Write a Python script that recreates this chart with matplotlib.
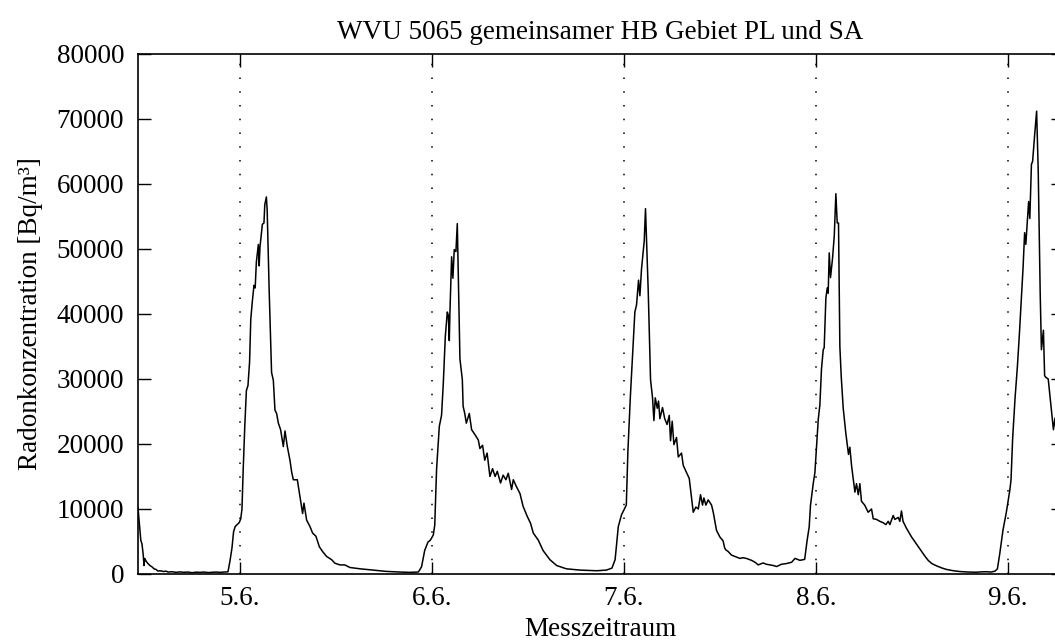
# -*- coding: utf-8
import matplotlib
matplotlib.use("Agg")
import matplotlib.pyplot as plt

# 測定時刻 (5.6. 0:00 からの時間 [h]) とラドン濃度 [Bq/m3]
# 4.6. 夜 ～ 5.6. 朝
t_0 = [-12.75, -12.6, -12.4, -12.25, -12.1, -12.0, -11.9, -11.75, -11.5, -11.25,
       -11.0, -10.75, -10.5, -10.25, -10.0, -9.5, -9.25, -9.0, -8.5, -8.0,
       -7.5, -7.0, -6.5, -6.0, -5.5, -5.0, -4.5, -4.0, -3.5, -3.0,
       -2.5, -2.0, -1.5]
v_0 = [10200, 8000, 5200, 4600, 3000, 1300, 2400, 2000, 1600, 1300,
       1100, 800, 700, 450, 500, 380, 450, 300, 350, 250,
       320, 260, 300, 200, 280, 250, 300, 220, 260, 300,
       250, 300, 330]

# 5.6.
t_1 = [-1.25, -1.0, -0.8, -0.6, -0.35, -0.1, 0.1, 0.25, 0.4, 0.6,
       0.8, 1.0, 1.2, 1.35, 1.55, 1.75, 1.9, 2.05, 2.3, 2.4,
       2.5, 2.8, 3.0, 3.1, 3.3, 3.4, 3.65, 3.95, 4.17, 4.375,
       4.58, 4.8, 5.08, 5.42, 5.63, 5.92, 6.25, 6.46, 6.67, 7.17,
       7.5, 7.83, 8.0, 8.33, 8.75, 9.08, 9.5, 9.92, 10.33, 10.83,
       11.46, 11.88, 12.5, 13.1, 13.75, 15.0, 16.67, 18.3, 20.0, 21.2,
       22.3, 22.7, 23.1, 23.5, 23.8, 24.17, 24.35]
v_1 = [2000, 4000, 6500, 7300, 7600, 7900, 8500, 10000, 16000, 22700,
       28200, 29000, 32600, 39200, 42000, 44400, 44000, 48000, 50700, 47400,
       50300, 53800, 54000, 56800, 58000, 56000, 43600, 31000, 29800, 25200,
       24700, 23200, 22200, 19600, 22000, 19600, 17500, 15700, 14500, 14500,
       11900, 9300, 10900, 8300, 7300, 6300, 5800, 4200, 3450, 2700,
       2200, 1650, 1400, 1400, 1000, 800, 600, 400, 300, 250,
       300, 1100, 3650, 4900, 5200, 6000, 7500]

# 6.6.
t_2 = [24.58, 24.92, 25.2, 25.42, 25.67, 25.92, 26.05, 26.17, 26.25, 26.46,
       26.62, 26.79, 27.0, 27.17, 27.33, 27.5, 27.8, 27.9, 28.1, 28.3,
       28.67, 28.96, 29.4, 29.8, 30.0, 30.33, 30.6, 30.9, 31.25, 31.58,
       31.9, 32.17, 32.58, 32.9, 33.25, 33.54, 33.96, 34.17, 34.58, 35.0,
       35.4, 35.9, 36.33, 36.67, 37.3, 37.9, 38.75, 39.6, 40.8, 42.5,
       44.6, 45.8, 46.5, 46.9, 47.3, 47.7, 48.1, 48.3]
v_2 = [16100, 22700, 24400, 29300, 36500, 40300, 39800, 35900, 40300, 48800,
       45500, 49900, 49600, 53900, 43600, 33100, 29900, 25800, 24700, 23200,
       24700, 22200, 21400, 20600, 19300, 19800, 17500, 18600, 15000, 16200,
       15000, 15800, 14000, 15200, 14500, 15500, 13000, 14500, 13400, 12400,
       10400, 8900, 7800, 6300, 5200, 3600, 2200, 1300, 800, 600,
       500, 600, 900, 2200, 7300, 9100, 10100, 10600]

# 7.6.
t_3 = [48.5, 48.8, 49.08, 49.37, 49.58, 49.83, 50.0, 50.2, 50.42, 50.54,
       50.7, 50.83, 51.04, 51.33, 51.58, 51.75, 51.92, 52.17, 52.33, 52.5,
       52.83, 53.1, 53.4, 53.67, 53.83, 54.04, 54.25, 54.58, 54.8, 55.2,
       55.42, 55.83, 56.17, 56.46, 56.67, 57.0, 57.3, 57.58, 57.83, 58.0,
       58.25, 58.54, 58.96, 59.17, 59.58, 60.0, 60.4, 60.6, 60.75, 61.0,
       61.46, 62.08, 62.5, 62.9, 63.3, 63.96, 64.4, 64.8, 65.4, 65.8,
       66.25, 66.7, 67.1, 67.7, 68.3, 68.96, 69.4, 70.0, 70.6, 70.9,
       71.17, 71.33, 71.67]
v_3 = [18900, 27100, 33700, 40300, 41400, 45200, 42800, 46900, 49600, 51200,
       56200, 51200, 43600, 29900, 27100, 23600, 27100, 25500, 26600, 23900,
       25600, 23900, 23000, 24400, 20500, 23500, 19900, 21000, 18000, 18600,
       16700, 15600, 14700, 11700, 9500, 10300, 10000, 12200, 10600, 11700,
       10600, 11400, 10600, 9500, 6700, 5700, 5100, 4000, 3700, 3500,
       2900, 2600, 2400, 2500, 2400, 2100, 1800, 1400, 1700, 1500,
       1400, 1300, 1150, 1500, 1600, 1800, 2400, 2100, 2250, 5100,
       7300, 10600, 13900]

# 8.6.
t_4 = [71.88, 72.08, 72.3, 72.5, 72.7, 72.92, 73.04, 73.25, 73.42, 73.54,
       73.67, 73.83, 74.08, 74.3, 74.5, 74.67, 74.83, 75.0, 75.17, 75.42,
       75.75, 75.92, 76.08, 76.25, 76.46, 76.75, 76.88, 77.08, 77.3, 77.5,
       77.7, 78.1, 78.54, 78.96, 79.17, 79.58, 80.0, 80.4, 80.75, 81.04,
       81.25, 81.67, 81.87, 82.3, 82.5, 82.7, 82.9, 83.3, 83.96, 84.58,
       85.2, 85.6, 86.04, 86.5, 87.08, 87.7, 88.33, 89.2, 90.0, 91.0,
       92.08, 92.7, 93.33, 93.9, 94.4, 94.7, 95.0, 95.4, 95.8]
v_4 = [15600, 19400, 23800, 26000, 31500, 34500, 34800, 42400, 44000, 43200,
       49400, 45600, 48500, 52000, 58500, 54000, 54000, 35000, 30400, 25500,
       21600, 20000, 18400, 19500, 16700, 13900, 12600, 13900, 12200, 13900,
       11200, 10600, 9500, 10000, 8500, 8400, 8100, 7900, 7600, 8100,
       7600, 9000, 8400, 8700, 8100, 9700, 8100, 7100, 5700, 4600,
       3500, 2800, 2100, 1600, 1260, 950, 700, 500, 380, 300,
       270, 330, 350, 300, 440, 800, 3200, 6800, 9400]

# 9.6.
t_5 = [96.25, 96.4, 96.6, 96.9, 97.2, 97.45, 97.7, 97.9, 98.1, 98.25,
       98.45, 98.6, 98.75, 98.95, 99.1, 99.35, 99.6, 99.8, 100.05, 100.2,
       100.45, 100.6, 100.8, 101.05, 101.45, 101.7, 101.9, 102.1]
v_5 = [12900, 14500, 20800, 27000, 32000, 37000, 42400, 47000, 52500, 50700,
       54500, 57300, 54700, 63000, 63500, 67500, 71200, 62000, 43000, 34500,
       37500, 30500, 30200, 30000, 25300, 22200, 24000, 21000]

# 日付の目盛り
day_ticks = [0, 24, 48, 72, 96]
day_labels = ["5.6.", "6.6.", "7.6.", "8.6.", "9.6."]
y_ticks = [0, 10000, 20000, 30000, 40000, 50000, 60000, 70000, 80000]


def main():
    plt.rcParams['font.family'] = ['Liberation Serif', 'DejaVu Serif']

    t_h = t_0 + t_1 + t_2 + t_3 + t_4 + t_5
    radon = v_0 + v_1 + v_2 + v_3 + v_4 + v_5

    fig = plt.figure(figsize=(10.55, 6.44), dpi=100)
    # 右端の枠は画像の外
    ax = fig.add_axes([0.1308, 0.1087, 0.8768, 0.8075])

    # 日付の区切り (点線)
    for d in day_ticks:
        ax.axvline(d, color="black", lw=1.1, linestyle=(0, (1, 8)), zorder=1)

    ax.plot(t_h, radon, color="black", lw=1.1, zorder=2)

    ax.set_xlim(-12.75, 102.9)
    ax.set_ylim(0, 80000)
    ax.set_xticks(day_ticks)
    ax.set_xticklabels(day_labels)
    ax.set_yticks(y_ticks)
    ax.set_yticklabels([str(v) for v in y_ticks])

    ax.tick_params(direction="in", length=9, width=1.0, top=True, right=True,
                   labelsize=19.5)
    ax.tick_params(axis="y", pad=10)
    ax.tick_params(axis="x", pad=9)
    for s in ax.spines.values():
        s.set_linewidth(1.2)

    ax.set_title("WVU 5065 gemeinsamer HB Gebiet PL und SA", fontsize=19.5, pad=11)
    ax.set_xlabel("Messzeitraum", fontsize=19.5, labelpad=4)
    ax.set_ylabel("Radonkonzentration [Bq/m³]", fontsize=19.5, labelpad=10)

    fig.savefig("out.png", dpi=100)


if __name__ == "__main__":
    main()
